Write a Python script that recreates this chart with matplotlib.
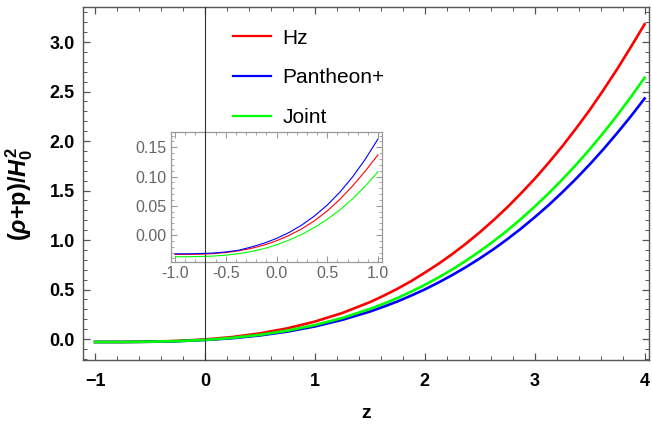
import matplotlib
matplotlib.use("Agg")
import matplotlib.pyplot as plt
from matplotlib.ticker import MultipleLocator, FormatStrFormatter
from matplotlib.lines import Line2D
from matplotlib.transforms import blended_transform_factory

plt.rcParams['font.family'] = ['Liberation Sans', 'DejaVu Sans']
plt.rcParams['mathtext.fontset'] = 'custom'
plt.rcParams['mathtext.rm'] = 'Liberation Sans:bold'
plt.rcParams['mathtext.it'] = 'Liberation Sans:italic:bold'
plt.rcParams['mathtext.bf'] = 'Liberation Sans:bold'

# ---- main panel data ----
z_main = [-1.0, -0.75, -0.5, -0.25, 0.0, 0.25, 0.5, 0.75, 1.0, 1.25, 1.5,
          1.625, 1.75, 1.875, 2.0, 2.125, 2.25, 2.375, 2.5, 2.625, 2.75,
          2.875, 3.0, 3.125, 3.25, 3.375, 3.5, 3.625, 3.75, 3.875, 4.0]
hz_main = [-0.030, -0.030, -0.027, -0.019, -0.004, 0.020, 0.057, 0.108, 0.176, 0.263, 0.372,
           0.437, 0.507, 0.584, 0.670, 0.760, 0.858, 0.964, 1.078, 1.200, 1.330,
           1.471, 1.618, 1.778, 1.945, 2.125, 2.313, 2.515, 2.726, 2.950, 3.18]
pan_main = [-0.030, -0.030, -0.028, -0.022, -0.010, 0.008, 0.036, 0.075, 0.127, 0.194, 0.277,
            0.326, 0.379, 0.438, 0.501, 0.571, 0.646, 0.727, 0.814, 0.907, 1.008,
            1.115, 1.230, 1.351, 1.481, 1.618, 1.763, 1.917, 2.080, 2.250, 2.43]
joint_main = [-0.030, -0.030, -0.027, -0.021, -0.009, 0.012, 0.042, 0.085, 0.141, 0.213, 0.304,
              0.356, 0.414, 0.478, 0.547, 0.622, 0.703, 0.791, 0.886, 0.987, 1.096,
              1.213, 1.337, 1.469, 1.610, 1.759, 1.916, 2.083, 2.259, 2.445, 2.64]

# ---- inset data ----
z_in = [-1.0, -0.875, -0.75, -0.625, -0.5, -0.375, -0.25, -0.125, 0.0,
        0.125, 0.25, 0.375, 0.5, 0.625, 0.75, 0.875, 1.0]
hz_in = [-0.0330, -0.0330, -0.0326, -0.0317, -0.0298, -0.0270, -0.0228, -0.0172, -0.0098,
         -0.0005, 0.0108, 0.0245, 0.0412, 0.0610, 0.0838, 0.1092, 0.137]
pan_in = [-0.0320, -0.0320, -0.0316, -0.0307, -0.0289, -0.0260, -0.0205, -0.0140, -0.0058,
          0.0045, 0.0172, 0.0327, 0.0512, 0.0733, 0.0993, 0.1295, 0.164]
joint_in = [-0.0370, -0.0370, -0.0366, -0.0359, -0.0343, -0.0318, -0.0282, -0.0232, -0.0167,
            -0.0085, 0.0012, 0.0130, 0.0268, 0.0430, 0.0618, 0.0835, 0.108]

labels = ['Hz', 'Pantheon+', 'Joint']
colors = ['#ff0000', '#0000ff', '#00ff00']

fig = plt.figure(figsize=(6.52, 4.28), dpi=100)
ax = fig.add_axes([83/652, 1-360/428, (649-83)/652, (360-7)/428])

for y, c, l in zip([hz_main, pan_main, joint_main], colors, labels):
    ax.plot(z_main, y, color=c, lw=1.9, label=l)

ax.set_xlim(-1.11, 4.04)
ax.set_ylim(-0.212, 3.354)
ax.xaxis.set_major_locator(MultipleLocator(1))
ax.xaxis.set_minor_locator(MultipleLocator(0.2))
ax.yaxis.set_major_locator(MultipleLocator(0.5))
ax.yaxis.set_minor_locator(MultipleLocator(0.1))
ax.yaxis.set_major_formatter(FormatStrFormatter('%.1f'))
ax.tick_params(which='both', direction='in', top=True, right=True, color='#555555')
ax.tick_params(which='major', length=5, width=0.9, labelsize=13)
ax.tick_params(axis='x', which='major', pad=9)
ax.tick_params(axis='y', which='major', pad=6)
ax.tick_params(which='minor', length=3, width=0.7)
for lab in ax.get_xticklabels() + ax.get_yticklabels():
    lab.set_fontweight('bold')
for s in ax.spines.values():
    s.set_color('#555555')
    s.set_linewidth(1.0)
ax.set_xlabel('z', fontsize=14, fontweight='bold', labelpad=11)
ax.set_ylabel(r'($\rho$+p)/$H_0^2$', fontsize=17, fontweight='bold')
ax.yaxis.set_label_coords(-0.085, 0.47)

leg = ax.legend(loc='upper left', bbox_to_anchor=(233/652, 1-28.5/428),
                bbox_transform=fig.transFigure, frameon=False, fontsize=15,
                handlelength=1.83, handletextpad=0.53, labelspacing=1.0,
                borderpad=0, borderaxespad=0)
for h in leg.get_lines():
    h.set_linewidth(1.6)

# ---- inset ----
axi = fig.add_axes([171/652, 1-262/428, (382-171)/652, (262-132)/428])
for y, c in zip([hz_in, pan_in, joint_in], colors):
    axi.plot(z_in, y, color=c, lw=0.8)
axi.set_xlim(-1.04, 1.04)
axi.set_ylim(-0.046, 0.176)
axi.xaxis.set_major_locator(MultipleLocator(0.5))
axi.xaxis.set_minor_locator(MultipleLocator(0.1))
axi.yaxis.set_major_locator(MultipleLocator(0.05))
axi.yaxis.set_minor_locator(MultipleLocator(0.01))
axi.xaxis.set_major_formatter(FormatStrFormatter('%.1f'))
axi.yaxis.set_major_formatter(FormatStrFormatter('%.2f'))
axi.tick_params(which='both', direction='in', top=True, right=True, color='#999999',
                labelcolor='#666666')
axi.tick_params(which='major', length=4, width=0.8, labelsize=11.5, pad=3)
axi.tick_params(which='minor', length=2, width=0.6)
for s in axi.spines.values():
    s.set_color('#999999')
    s.set_linewidth(0.9)

# vertical axis line at z = 0 of main panel, drawn over everything
trans = blended_transform_factory(ax.transData, ax.transAxes)
fig.add_artist(Line2D([0, 0], [0, 1], transform=trans, color='#333333', lw=0.8, zorder=10))

fig.savefig('out.png', dpi=100)
